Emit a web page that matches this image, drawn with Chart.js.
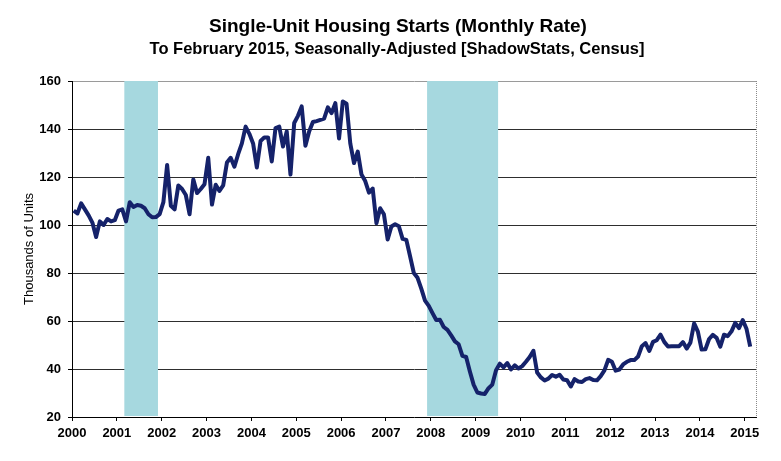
<!DOCTYPE html>
<html><head><meta charset="utf-8">
<script src="https://cdn.jsdelivr.net/npm/chart.js@4.4.0/dist/chart.umd.min.js"></script>
<style>html,body{margin:0;padding:0;background:#fff;overflow:hidden}#wrap{width:781px;height:461px}</style>
</head><body><div id="wrap"><canvas id="c" width="781" height="461"></canvas></div>
<script>
const chartTitle = 'Single-Unit Housing Starts (Monthly Rate)';
const chartSubtitle = 'To February 2015, Seasonally-Adjusted [ShadowStats, Census]';
const yAxisTitle = 'Thousands of Units';
const firstYear = 2000;
const yearTicks = [2000,2001,2002,2003,2004,2005,2006,2007,2008,2009,2010,2011,2012,2013,2014,2015];
const yTicks = [20,40,60,80,100,120,140,160];
const recessionStarts = ['2001-03','2007-12'];
const recessionEnds = ['2001-11','2009-06'];

// Monthly single-unit starts (thousands, monthly rate), Jan..Dec of each year
const y2000 = [106, 104.8, 109, 106.5, 104, 101, 95, 101.5, 100, 102.5, 101.5, 102];
const y2001 = [106, 106.5, 101.5, 109.5, 107.5, 108.3, 108, 107, 104.5, 103.2, 103.3, 104.5];
const y2002 = [109.5, 125, 108, 106.5, 116.5, 115, 112.5, 104.5, 119, 113.3, 115, 117];
const y2003 = [128, 108.5, 116.8, 114.2, 116.5, 126, 128, 124.3, 129.5, 134, 141, 138];
const y2004 = [134, 124, 135, 136.5, 136.5, 126.5, 140.4, 141, 132.7, 139, 121, 142.5];
const y2005 = [145.5, 149.4, 133, 139, 142.9, 143.3, 143.8, 144.3, 149, 146.6, 150.8, 136];
const y2006 = [151.5, 150.5, 134, 125.8, 130.6, 121, 118.3, 113.5, 115.2, 100.7, 107, 104.5];
const y2007 = [94, 99.4, 100.3, 99.5, 94.2, 93.8, 87, 80, 78, 73.5, 68.5, 66.3];
const y2008 = [63.3, 60.4, 60.5, 57.5, 56.3, 54, 51.5, 50.3, 45.5, 45, 39, 33.5];
const y2009 = [30.2, 29.8, 29.6, 32, 33.5, 39.5, 42.2, 40.7, 42.5, 39.8, 41.5, 40.2];
const y2010 = [41.2, 43, 45, 47.6, 38.5, 36.5, 35.2, 36, 37.5, 36.8, 37.6, 35.6];
const y2011 = [35.3, 32.7, 35.8, 34.8, 34.6, 35.8, 36.2, 35.4, 35.3, 37, 39.4, 43.8];
const y2012 = [43, 39.3, 39.8, 41.9, 43, 43.7, 43.7, 45.2, 49.5, 50.8, 47.5, 51.3];
const y2013 = [52, 54.3, 51.3, 49.4, 49.5, 49.5, 49.5, 51.2, 48.5, 51, 59, 55.6];
const y2014 = [48.1, 48.2, 52.5, 54.2, 53, 49.3, 54.3, 53.7, 55.7, 59.2, 57, 60.4];
const y2015 = [56.8, 49.3];

const monthly = [].concat(y2000,y2001,y2002,y2003,y2004,y2005,y2006,y2007,y2008,y2009,y2010,y2011,y2012,y2013,y2014,y2015);
const points = monthly.map((v,i)=>({x: firstYear + (i + 0.45)/12, y: v}));

function ym(s, end){ const [y,m] = s.split('-').map(Number); return y + (end ? m : m-1)/12; }

const extras = {
  id:'extras',
  beforeDatasetsDraw(chart){
    const {ctx, chartArea:a, scales:{x}} = chart;
    ctx.save();
    ctx.fillStyle = '#a6d8df';
    for (let k=0;k<recessionStarts.length;k++){
      const x0 = x.getPixelForValue(ym(recessionStarts[k],false));
      const x1 = x.getPixelForValue(ym(recessionEnds[k],true));
      ctx.fillRect(x0, a.top, x1-x0, a.bottom-a.top-1);
    }
    ctx.restore();
  },
  afterDraw(chart){
    const {ctx, chartArea:a} = chart;
    ctx.save();
    ctx.strokeStyle = '#8a8a8a'; ctx.lineWidth = 1; ctx.setLineDash([1,1]);
    ctx.beginPath(); ctx.moveTo(Math.round(a.right)+0.5, a.top); ctx.lineTo(Math.round(a.right)+0.5, a.bottom); ctx.stroke();
    ctx.setLineDash([]);
    ctx.fillStyle = '#000'; ctx.textAlign = 'center'; ctx.textBaseline = 'alphabetic';
    ctx.font = 'bold 19px "Liberation Sans", Arial, sans-serif';
    ctx.fillText(chartTitle, 398, 32);
    ctx.font = 'bold 16.5px "Liberation Sans", Arial, sans-serif';
    ctx.fillText(chartSubtitle, 397, 54);
    ctx.restore();
  }
};

new Chart(document.getElementById('c'), {
  type:'line',
  data:{ datasets:[{ data: points, borderColor:'#15226a', borderWidth:4, pointRadius:0, tension:0, fill:false, borderJoinStyle:'round' }]},
  options:{
    responsive:false, animation:false, devicePixelRatio:1, events:[],
    layout:{ padding:{ left:0, right:25, top:81, bottom:0 } },
    plugins:{ legend:{display:false}, tooltip:{enabled:false}, title:{display:false} },
    scales:{
      x:{ type:'linear', min:2000, max:2015.25,
        afterBuildTicks(s){ s.ticks = yearTicks.map(v=>({value:v})); },
        afterFit(s){ s.height = 44; },
        grid:{ drawOnChartArea:false, drawTicks:true, tickLength:4, tickColor:'#000' },
        border:{ display:true, color:'#000', width:1 },
        ticks:{ autoSkip:false, maxRotation:0, padding:5, color:'#000', font:{ family:'"Liberation Sans", Arial, sans-serif', size:13, weight:'bold' }, callback:v=>String(v) }
      },
      y:{ type:'linear', min:20, max:160,
        afterBuildTicks(s){ s.ticks = yTicks.map(v=>({value:v})); },
        afterFit(s){ s.width = 72; },
        grid:{ drawTicks:true, tickLength:4, tickColor:'#000', lineWidth:1,
          color:c=> c.tick && c.tick.value===160 ? '#9a9a9a' : (c.tick && c.tick.value===20 ? 'rgba(0,0,0,0)' : '#2e2e2e') },
        border:{ display:true, color:'#000', width:1 },
        title:{ display:true, text:yAxisTitle, color:'#000', padding:{top:22,bottom:0}, font:{ family:'"Liberation Sans", Arial, sans-serif', size:13 } },
        ticks:{ padding:7, color:'#000', font:{ family:'"Liberation Sans", Arial, sans-serif', size:13, weight:'bold' } }
      }
    }
  },
  plugins:[extras]
});
</script></body></html>
